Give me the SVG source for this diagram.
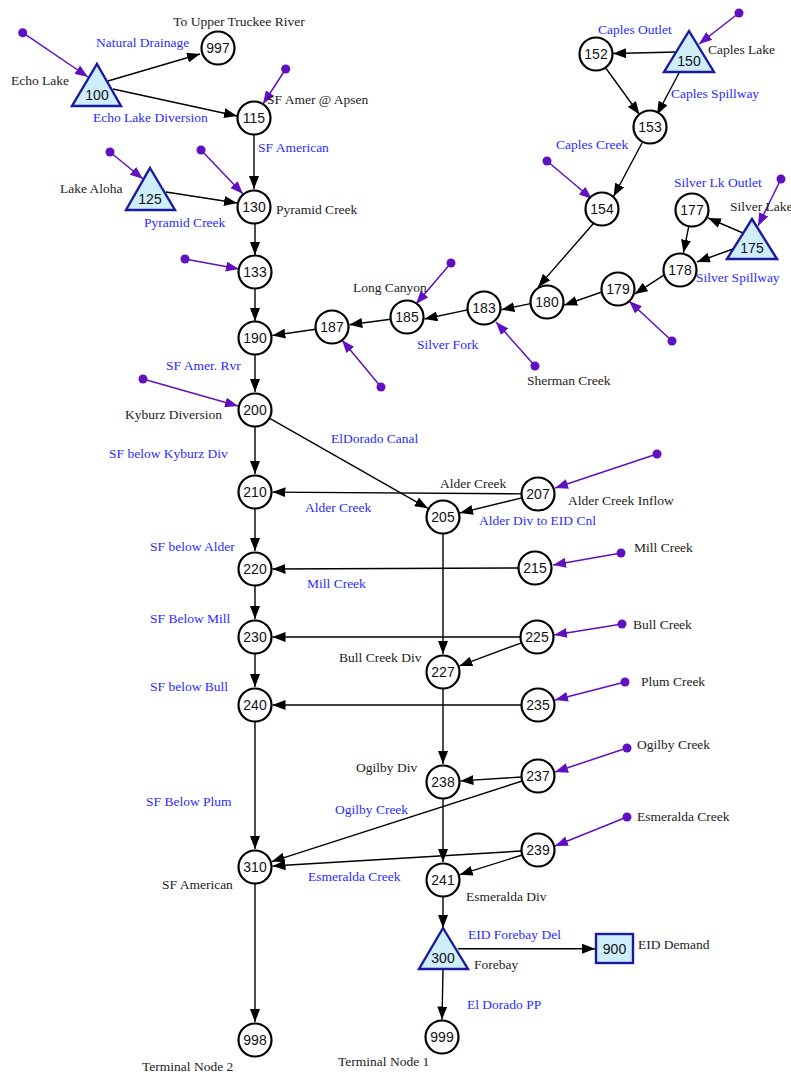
<svg xmlns="http://www.w3.org/2000/svg" width="791" height="1074" viewBox="0 0 791 1074">
<style>
.c{fill:#fff;stroke:#000;stroke-width:2.2}
.t{fill:#cdeefa;stroke:#1a1a9e;stroke-width:2.4;stroke-linejoin:miter}
.n{font-family:"Liberation Sans",Arial,sans-serif;font-size:14px;fill:#111;text-anchor:middle}
.l{font-family:"Liberation Serif","Times New Roman",serif;font-size:13.5px;fill:#222}
.b{font-family:"Liberation Serif","Times New Roman",serif;font-size:13.5px;fill:#2b2bff}
.e{stroke:#000;stroke-width:1.4;fill:none;marker-end:url(#ah)}
.p{stroke:#6010c0;stroke-width:1.5;fill:none;marker-end:url(#ap)}
.d{fill:#6010c0}
</style>
<defs>
<marker id="ah" markerUnits="userSpaceOnUse" markerWidth="13" markerHeight="10" refX="13" refY="5" orient="auto"><path d="M0,0 L13,5 L0,10 z" fill="#000"/></marker>
<marker id="ap" markerUnits="userSpaceOnUse" markerWidth="13" markerHeight="10" refX="13" refY="5" orient="auto"><path d="M0,0 L13,5 L0,10 z" fill="#6010c0"/></marker>
</defs>
<rect width="791" height="1074" fill="#fff"/>
<g id="connectors">
<line class="e" x1="108" y1="81" x2="200" y2="54"/>
<line class="e" x1="113" y1="89" x2="237" y2="116"/>
<line class="e" x1="254" y1="135" x2="254" y2="189"/>
<line class="e" x1="166" y1="192" x2="237" y2="203"/>
<line class="e" x1="255" y1="224" x2="255" y2="255"/>
<line class="e" x1="255" y1="289" x2="255" y2="321"/>
<line class="e" x1="315.7" y1="329.3" x2="272.3" y2="335.5"/>
<line class="e" x1="390.6" y1="319.2" x2="349.3" y2="324.7"/>
<line class="e" x1="467.6" y1="309.9" x2="424.4" y2="319"/>
<line class="e" x1="530.6" y1="303.6" x2="501.4" y2="309.7"/>
<line class="e" x1="601.8" y1="292" x2="564.2" y2="305.2"/>
<line class="e" x1="664.2" y1="274.8" x2="634.7" y2="294.1"/>
<line class="e" x1="688.8" y1="226.2" x2="683.4" y2="252.8"/>
<line class="e" x1="743" y1="233" x2="708" y2="218"/>
<line class="e" x1="733" y1="249" x2="697" y2="262"/>
<line class="e" x1="677" y1="52" x2="613" y2="53.5"/>
<line class="e" x1="679" y1="73" x2="657" y2="114.5"/>
<line class="e" x1="605" y1="67" x2="639.5" y2="114.5"/>
<line class="e" x1="642" y1="143" x2="613.5" y2="196.5"/>
<line class="e" x1="593.6" y1="223.2" x2="538.1" y2="286.9"/>
<line class="e" x1="255" y1="355" x2="255" y2="392"/>
<line class="e" x1="255" y1="427" x2="255" y2="474"/>
<line class="e" x1="269.3" y1="418.2" x2="427.8" y2="508.3"/>
<line class="e" x1="521.5" y1="493.9" x2="272.5" y2="492.1"/>
<line class="e" x1="522" y1="497.9" x2="460" y2="512.9"/>
<line class="e" x1="255" y1="509" x2="255" y2="551"/>
<line class="e" x1="518.5" y1="568" x2="272.5" y2="569"/>
<line class="e" x1="255" y1="586" x2="255" y2="619"/>
<line class="e" x1="443" y1="534" x2="443" y2="654"/>
<line class="e" x1="520.5" y1="637" x2="272.5" y2="637"/>
<line class="e" x1="521.5" y1="642.8" x2="459.4" y2="665.9"/>
<line class="e" x1="255" y1="654" x2="255" y2="687"/>
<line class="e" x1="521.5" y1="705" x2="272.5" y2="705"/>
<line class="e" x1="255" y1="722" x2="255" y2="849"/>
<line class="e" x1="443" y1="689" x2="443" y2="764"/>
<line class="e" x1="521.5" y1="777" x2="460.5" y2="780.9"/>
<line class="e" x1="522.3" y1="781" x2="271.7" y2="861.6"/>
<line class="e" x1="521.5" y1="851" x2="272.5" y2="866"/>
<line class="e" x1="443" y1="799" x2="443" y2="862"/>
<line class="e" x1="522.3" y1="855" x2="459.7" y2="874.7"/>
<line class="e" x1="443" y1="897" x2="443" y2="928"/>
<line class="e" x1="458" y1="948.7" x2="595" y2="948.7"/>
<line class="e" x1="443" y1="970" x2="442" y2="1019.5"/>
<line class="e" x1="255" y1="884" x2="255" y2="1022"/>
<line class="p" x1="22.7" y1="32.7" x2="88" y2="77"/>
<line class="p" x1="285.7" y1="69" x2="263" y2="104"/>
<line class="p" x1="110" y1="152" x2="143" y2="179"/>
<line class="p" x1="201" y1="150" x2="243" y2="194"/>
<line class="p" x1="739" y1="13" x2="699" y2="44"/>
<line class="p" x1="547" y1="161" x2="592" y2="199"/>
<line class="p" x1="781" y1="179" x2="758" y2="226"/>
<line class="p" x1="672" y1="341" x2="629" y2="301"/>
<line class="p" x1="185" y1="259" x2="239" y2="269"/>
<line class="p" x1="451" y1="263" x2="416" y2="304"/>
<line class="p" x1="381" y1="387" x2="342" y2="340"/>
<line class="p" x1="535" y1="366" x2="496" y2="322"/>
<line class="p" x1="143" y1="379" x2="238" y2="406"/>
<line class="p" x1="657" y1="454" x2="555" y2="488"/>
<line class="p" x1="621" y1="553" x2="553" y2="565"/>
<line class="p" x1="622" y1="624" x2="554" y2="635"/>
<line class="p" x1="625" y1="682" x2="555" y2="700"/>
<line class="p" x1="627" y1="748" x2="555" y2="772"/>
<line class="p" x1="627" y1="817" x2="555" y2="846"/>
<circle class="d" cx="22.7" cy="32.7" r="4.5"/>
<circle class="d" cx="285.7" cy="69" r="4.5"/>
<circle class="d" cx="110" cy="152" r="4.5"/>
<circle class="d" cx="201" cy="150" r="4.5"/>
<circle class="d" cx="739" cy="13" r="4.5"/>
<circle class="d" cx="547" cy="161" r="4.5"/>
<circle class="d" cx="781" cy="179" r="4.5"/>
<circle class="d" cx="672" cy="341" r="4.5"/>
<circle class="d" cx="185" cy="259" r="4.5"/>
<circle class="d" cx="451" cy="263" r="4.5"/>
<circle class="d" cx="381" cy="387" r="4.5"/>
<circle class="d" cx="535" cy="366" r="4.5"/>
<circle class="d" cx="143" cy="379" r="4.5"/>
<circle class="d" cx="657" cy="454" r="4.5"/>
<circle class="d" cx="621" cy="553" r="4.5"/>
<circle class="d" cx="622" cy="624" r="4.5"/>
<circle class="d" cx="625" cy="682" r="4.5"/>
<circle class="d" cx="627" cy="748" r="4.5"/>
<circle class="d" cx="627" cy="817" r="4.5"/>
</g>
<g id="edge-labels">
<text class="b" x="96" y="47">Natural Drainage</text>
<text class="b" x="93" y="122">Echo Lake Diversion</text>
<text class="b" x="258" y="152">SF American</text>
<text class="b" x="144" y="227">Pyramid Creek</text>
<text class="b" x="598" y="34">Caples Outlet</text>
<text class="b" x="671" y="98">Caples Spillway</text>
<text class="b" x="556" y="149">Caples Creek</text>
<text class="b" x="674" y="187">Silver Lk Outlet</text>
<text class="b" x="696" y="282">Silver Spillway</text>
<text class="b" x="417" y="349">Silver Fork</text>
<text class="b" x="166" y="370">SF Amer. Rvr</text>
<text class="b" x="331" y="443">ElDorado Canal</text>
<text class="b" x="109" y="458">SF below Kyburz Div</text>
<text class="b" x="305" y="512">Alder Creek</text>
<text class="b" x="479" y="525">Alder Div to EID Cnl</text>
<text class="b" x="150" y="551">SF below Alder</text>
<text class="b" x="307" y="588">Mill Creek</text>
<text class="b" x="150" y="623">SF Below Mill</text>
<text class="b" x="150" y="691">SF below Bull</text>
<text class="b" x="146" y="806">SF Below Plum</text>
<text class="b" x="335" y="814">Ogilby Creek</text>
<text class="b" x="308" y="881">Esmeralda Creek</text>
<text class="b" x="468" y="939">EID Forebay Del</text>
<text class="b" x="467" y="1009">El Dorado PP</text>
<text class="l" x="440" y="488">Alder Creek</text>
<text class="l" x="634" y="552">Mill Creek</text>
<text class="l" x="633" y="629">Bull Creek</text>
<text class="l" x="641" y="686">Plum Creek</text>
<text class="l" x="637" y="749">Ogilby Creek</text>
<text class="l" x="637" y="821">Esmeralda Creek</text>
<text class="l" x="353" y="292">Long Canyon</text>
<text class="l" x="527" y="385">Sherman Creek</text>
</g>
<g id="n997"><circle class="c" cx="218" cy="48" r="16.5"/><text class="n" x="218" y="53">997</text><text class="l" x="239" y="26" text-anchor="middle">To Upper Truckee River</text></g>
<g id="n100"><polygon class="t" points="97,64 121,106 72,106"/><text class="n" x="97" y="100">100</text><text class="l" x="11" y="85">Echo Lake</text></g>
<g id="n115"><circle class="c" cx="254" cy="118" r="16.5"/><text class="n" x="254" y="123">115</text><text class="l" x="267" y="104">SF Amer @ Apsen</text></g>
<g id="n125"><polygon class="t" points="150,168 175,210 126,210"/><text class="n" x="150" y="204">125</text><text class="l" x="60" y="193">Lake Aloha</text></g>
<g id="n130"><circle class="c" cx="254" cy="207" r="16.5"/><text class="n" x="254" y="212">130</text><text class="l" x="276" y="214">Pyramid Creek</text></g>
<g id="n133"><circle class="c" cx="255" cy="272" r="16.5"/><text class="n" x="255" y="277">133</text></g>
<g id="n190"><circle class="c" cx="255" cy="338" r="16.5"/><text class="n" x="255" y="343">190</text></g>
<g id="n187"><circle class="c" cx="332" cy="327" r="16.5"/><text class="n" x="332" y="332">187</text></g>
<g id="n185"><circle class="c" cx="407" cy="317" r="16.5"/><text class="n" x="407" y="322">185</text></g>
<g id="n183"><circle class="c" cx="484" cy="308" r="16.5"/><text class="n" x="484" y="313">183</text></g>
<g id="n180"><circle class="c" cx="547" cy="302" r="16.5"/><text class="n" x="547" y="307">180</text></g>
<g id="n179"><circle class="c" cx="618" cy="289" r="16.5"/><text class="n" x="618" y="294">179</text></g>
<g id="n178"><circle class="c" cx="680" cy="270" r="16.5"/><text class="n" x="680" y="275">178</text></g>
<g id="n177"><circle class="c" cx="692" cy="210" r="16.5"/><text class="n" x="692" y="215">177</text></g>
<g id="n175"><polygon class="t" points="752,219 777,259 727,259"/><text class="n" x="752" y="253">175</text><text class="l" x="730" y="211">Silver Lake</text></g>
<g id="n150"><polygon class="t" points="689,31 714,72 664,72"/><text class="n" x="689" y="66">150</text><text class="l" x="708" y="54">Caples Lake</text></g>
<g id="n152"><circle class="c" cx="596" cy="54" r="16.5"/><text class="n" x="596" y="59">152</text></g>
<g id="n153"><circle class="c" cx="650" cy="127" r="16.5"/><text class="n" x="650" y="132">153</text></g>
<g id="n154"><circle class="c" cx="602" cy="209" r="16.5"/><text class="n" x="602" y="214">154</text></g>
<g id="n200"><circle class="c" cx="255" cy="410" r="16.5"/><text class="n" x="255" y="415">200</text><text class="l" x="125" y="419">Kyburz Diversion</text></g>
<g id="n210"><circle class="c" cx="255" cy="492" r="16.5"/><text class="n" x="255" y="497">210</text></g>
<g id="n207"><circle class="c" cx="538" cy="494" r="16.5"/><text class="n" x="538" y="499">207</text><text class="l" x="568" y="505">Alder Creek Inflow</text></g>
<g id="n205"><circle class="c" cx="443" cy="517" r="16.5"/><text class="n" x="443" y="522">205</text></g>
<g id="n220"><circle class="c" cx="255" cy="569" r="16.5"/><text class="n" x="255" y="574">220</text></g>
<g id="n215"><circle class="c" cx="535" cy="568" r="16.5"/><text class="n" x="535" y="573">215</text></g>
<g id="n230"><circle class="c" cx="255" cy="637" r="16.5"/><text class="n" x="255" y="642">230</text></g>
<g id="n225"><circle class="c" cx="537" cy="637" r="16.5"/><text class="n" x="537" y="642">225</text></g>
<g id="n227"><circle class="c" cx="443" cy="672" r="16.5"/><text class="n" x="443" y="677">227</text><text class="l" x="339" y="662">Bull Creek Div</text></g>
<g id="n240"><circle class="c" cx="255" cy="705" r="16.5"/><text class="n" x="255" y="710">240</text></g>
<g id="n235"><circle class="c" cx="538" cy="705" r="16.5"/><text class="n" x="538" y="710">235</text></g>
<g id="n238"><circle class="c" cx="443" cy="782" r="16.5"/><text class="n" x="443" y="787">238</text><text class="l" x="356" y="772">Ogilby Div</text></g>
<g id="n237"><circle class="c" cx="538" cy="776" r="16.5"/><text class="n" x="538" y="781">237</text></g>
<g id="n310"><circle class="c" cx="255" cy="867" r="16.5"/><text class="n" x="255" y="872">310</text><text class="l" x="162" y="889">SF American</text></g>
<g id="n239"><circle class="c" cx="538" cy="850" r="16.5"/><text class="n" x="538" y="855">239</text></g>
<g id="n241"><circle class="c" cx="443" cy="880" r="16.5"/><text class="n" x="443" y="885">241</text><text class="l" x="466" y="901">Esmeralda Div</text></g>
<g id="n300"><polygon class="t" points="443,928 468,969 419,969"/><text class="n" x="443" y="963">300</text><text class="l" x="474" y="969">Forebay</text></g>
<g id="n900"><rect class="t" x="596" y="934" width="37" height="29"/><text class="n" x="614.5" y="954">900</text><text class="l" x="638" y="949">EID Demand</text></g>
<g id="n998"><circle class="c" cx="255" cy="1040" r="16.5"/><text class="n" x="255" y="1045">998</text><text class="l" x="142" y="1071">Terminal Node 2</text></g>
<g id="n999"><circle class="c" cx="442" cy="1037" r="16.5"/><text class="n" x="442" y="1042">999</text><text class="l" x="338" y="1066">Terminal Node 1</text></g>
</svg>
